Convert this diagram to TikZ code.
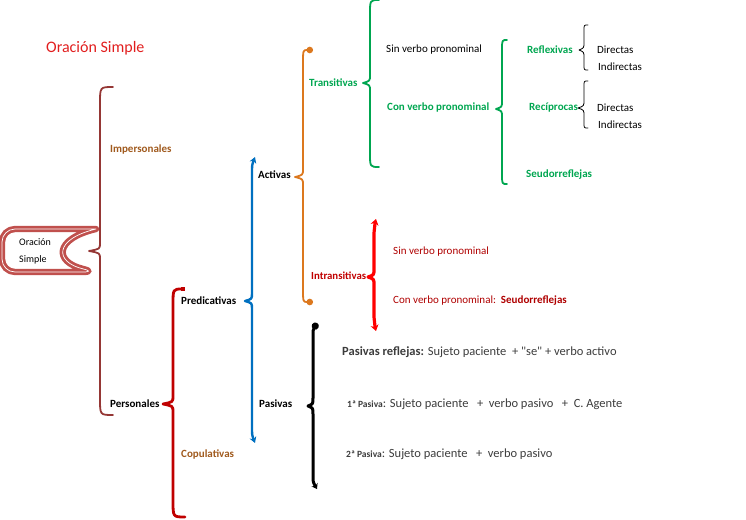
\documentclass[tikz,border=0pt]{standalone}
\usepackage{fontspec}
\setmainfont{Carlito}
\usetikzlibrary{arrows.meta}
\definecolor{cTitle}{RGB}{225,30,30}
\definecolor{cBanner}{RGB}{192,80,77}
\definecolor{cBrown}{RGB}{149,55,53}
\definecolor{cBrTxt}{RGB}{160,90,30}
\definecolor{cDRed}{RGB}{192,0,0}
\definecolor{cBlue}{RGB}{0,112,192}
\definecolor{cOrange}{RGB}{220,120,30}
\definecolor{cGreen}{RGB}{0,166,80}
\definecolor{cRed}{RGB}{255,0,0}
\definecolor{cRedTxt}{RGB}{175,0,0}
\definecolor{cGray}{RGB}{60,60,60}
\newcommand\mybrace[9]{%
\draw[#1] (#6,#3) .. controls (#2,{#3+#9}) .. (#2,{#3+#8}) -- (#2,{#4-8})
 .. controls (#2,{#4-2}) .. (#7,#4) .. controls (#2,{#4+2}) .. (#2,{#4+8})
 -- (#2,{#5-#8}) .. controls (#2,{#5-#9}) .. (#6,#5);}
\tikzset{
 lbl/.style={anchor=west, inner sep=0pt, font=\fontsize{11}{13}\selectfont},
 blbl/.style={lbl, font=\fontsize{11}{13}\selectfont\bfseries},
 brc/.style={line cap=round, line join=round},
}
\begin{document}
\begin{tikzpicture}[x=1pt,y=-1pt]
\useasboundingbox (0,0) rectangle (746,519);
% title
\node[lbl, text=cTitle, font=\fontsize{16}{19}\selectfont] (title) at (46,48) {Oración Simple};
% banner
\draw[cBanner, line width=2.8pt, double=white, double distance=0.7pt, fill=white, rounded corners=13pt, line join=round]
 (96,229) -- (2,229) -- (2,272) -- (96,272) [sharp corners] .. controls (54,262) and (54,239) .. cycle;
\node[lbl, align=left, font=\fontsize{10}{17}\selectfont] (os) at (19,251.5) {Oración\\Simple};
% braces
\mybrace{brc, cBrown, line width=1.8pt}{100}{87}{251}{415}{113}{89}{16}{0}
\mybrace{brc, cDRed, line width=2.8pt, {Square[length=4pt,width=4.5pt]}-}{173}{289}{404}{517}{185}{163}{16}{0}
\mybrace{brc, cBlue, line width=2.4pt, {Stealth[length=6pt,width=7pt]}-{Stealth[length=6pt,width=7pt]}}{252}{157}{301}{443}{255}{245}{16}{8}
\mybrace{brc, cOrange, line width=1.8pt, {Circle[length=6.5pt]}-{Circle[length=6.5pt]}}{303}{50}{177}{302}{313}{295}{14}{0}
\mybrace{brc, cGreen, line width=1.8pt}{370}{0}{83}{167}{379}{363}{14}{0}
\mybrace{brc, cGreen, line width=1.8pt}{502}{40}{109}{184}{507}{496}{10}{0}
\mybrace{brc, black, line width=0.8pt}{584}{25}{50}{70}{588}{579}{5}{0}
\mybrace{brc, black, line width=0.8pt}{584}{81}{108}{128}{588}{578}{5}{0}
\mybrace{brc, cRed, line width=3.2pt, {Stealth[length=6pt,width=8pt]}-{Stealth[length=6pt,width=8pt]}}{374}{219}{277}{331}{376}{368}{14}{8}
\mybrace{brc, black, line width=3pt, {Circle[length=7pt]}-{Stealth[length=5pt,width=7pt]}}{313}{323}{406}{489}{317}{308}{14}{7}
% labels
\node[blbl, text=cBrTxt] (imp) at (110,150) {Impersonales};
\node[blbl] (per) at (110,404) {Personales};
\node[blbl] (pred) at (181,301) {Predicativas};
\node[blbl, text=cBrTxt] (cop) at (181,454) {Copulativas};
\node[blbl] (act) at (258,175) {Activas};
\node[blbl] (pas) at (259,404) {Pasivas};
\node[blbl, text=cGreen] (tra) at (309,83) {Transitivas};
\node[blbl, text=cDRed, font=\fontsize{10.8}{13}\selectfont\bfseries] (itr) at (311,276) {Intransitivas};
\node[lbl] (sin1) at (386,50) {Sin verbo pronominal};
\node[blbl, text=cGreen] (con1) at (387,108) {Con verbo pronominal};
\node[blbl, text=cGreen] (ref) at (527,50) {Reflexivas};
\node[blbl, text=cGreen] (rec) at (529,108) {Recíprocas};
\node[blbl, text=cGreen] (seu1) at (526,175) {Seudorreflejas};
\node[lbl] (d1) at (597,50) {Directas};
\node[lbl] (i1) at (598,67) {Indirectas};
\node[lbl] (d2) at (597,108) {Directas};
\node[lbl] (i2) at (598,125) {Indirectas};
\node[lbl, text=cRedTxt] (sin2) at (393,252) {Sin verbo pronominal};
\node[lbl, text=cRedTxt] (con2) at (393,301) {Con verbo pronominal:\ \ \textbf{Seudorreflejas}};
\node[lbl, text=cGray, font=\fontsize{12.5}{15}\selectfont] (pr) at (342,352) {\textbf{Pasivas reflejas:} Sujeto paciente\ \ + \textquotedbl se\textquotedbl\ + verbo activo};
\node[lbl, text=cGray, font=\fontsize{12.5}{15}\selectfont] (p1) at (347,404) {{\fontsize{9.5}{11}\selectfont\bfseries 1ª Pasiva}: Sujeto paciente\ \ \ +\ \ verbo pasivo\ \ \ +\ \ C. Agente};
\node[lbl, text=cGray, font=\fontsize{12.5}{15}\selectfont] (p2) at (346,454) {{\fontsize{9.5}{11}\selectfont\bfseries 2ª Pasiva}: Sujeto paciente\ \ \ +\ \ verbo pasivo};
\end{tikzpicture}
\end{document}
